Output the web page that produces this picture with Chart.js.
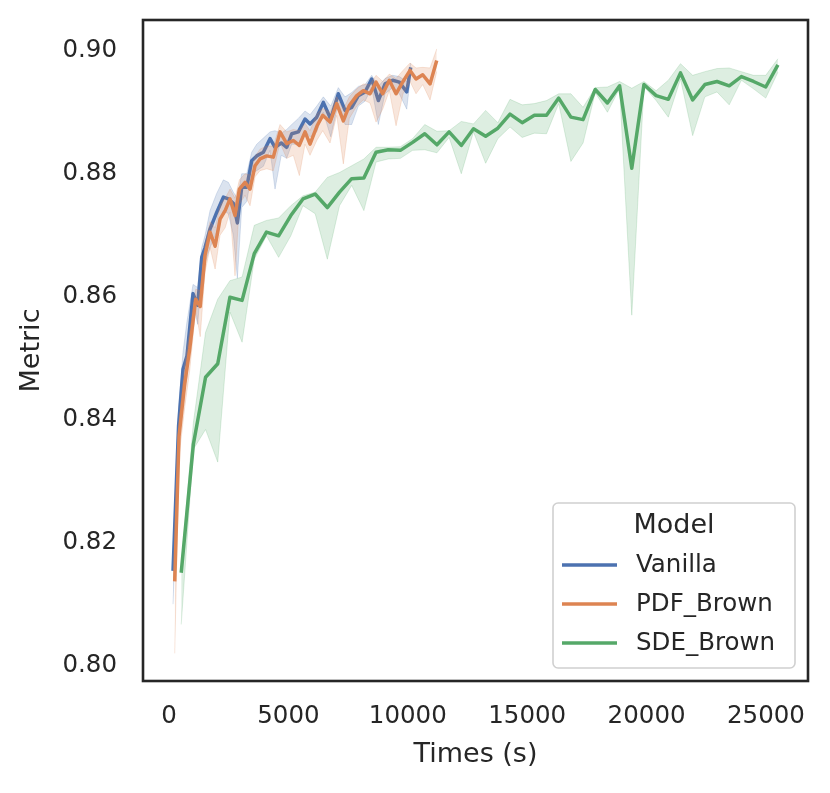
<!DOCTYPE html>
<html>
<head>
<meta charset="utf-8">
<script src="https://cdn.jsdelivr.net/npm/chart.js@4.4.1/dist/chart.umd.min.js"></script>
<style>
  body { margin: 0; background: #fff; }
  #wrap { width: 830px; height: 793px; }
</style>
</head>
<body>
<div id="wrap"><canvas id="chart" width="830" height="793"></canvas></div>
<script>
// values
const xTicks = [0, 5000, 10000, 15000, 20000, 25000];
const yTicks = [0.80, 0.82, 0.84, 0.86, 0.88, 0.90];
const seriesNames = ['Vanilla', 'PDF_Brown', 'SDE_Brown'];

const vanillaTimes = [168, 400, 586, 754, 1005, 1200, 1370, 1510, 1717, 1996, 2276, 2485, 2694, 2862, 3044, 3254, 3463, 3672, 3951, 4230, 4439, 4700, 4928, 5138, 5416, 5696, 5905, 6186, 6462, 6772, 7090, 7371, 7651, 7928, 8208, 8489, 8766, 9046, 9368, 9645, 9955, 10122];
const vanillaMean = [0.8154, 0.8390, 0.8482, 0.8504, 0.8605, 0.8586, 0.8664, 0.8680, 0.8710, 0.8737, 0.8762, 0.8759, 0.8752, 0.8720, 0.8778, 0.8778, 0.8821, 0.8829, 0.8835, 0.8857, 0.8843, 0.8850, 0.8843, 0.8865, 0.8868, 0.8889, 0.8881, 0.8892, 0.8916, 0.8889, 0.8930, 0.8903, 0.8908, 0.8927, 0.8933, 0.8954, 0.8919, 0.8946, 0.8952, 0.8949, 0.8933, 0.8973];
const vanillaUpper = [0.8180, 0.8420, 0.8510, 0.8560, 0.8620, 0.8615, 0.8680, 0.8700, 0.8740, 0.8768, 0.8790, 0.8786, 0.8770, 0.8760, 0.8800, 0.8800, 0.8835, 0.8848, 0.8858, 0.8868, 0.8870, 0.8866, 0.8872, 0.8880, 0.8890, 0.8902, 0.8896, 0.8910, 0.8925, 0.8910, 0.8940, 0.8925, 0.8932, 0.8942, 0.8945, 0.8960, 0.8942, 0.8955, 0.8960, 0.8958, 0.8950, 0.8980];
const vanillaLower = [0.8100, 0.8360, 0.8430, 0.8470, 0.8590, 0.8555, 0.8635, 0.8655, 0.8680, 0.8705, 0.8740, 0.8735, 0.8700, 0.8630, 0.8745, 0.8755, 0.8800, 0.8805, 0.8812, 0.8838, 0.8775, 0.8830, 0.8825, 0.8848, 0.8848, 0.8870, 0.8860, 0.8868, 0.8900, 0.8860, 0.8915, 0.8880, 0.8880, 0.8910, 0.8918, 0.8940, 0.8880, 0.8930, 0.8940, 0.8930, 0.8905, 0.8962];

const pdfTimes = [238, 419, 656, 866, 1117, 1305, 1508, 1717, 1930, 2136, 2350, 2555, 2764, 2946, 3183, 3392, 3602, 3811, 4092, 4368, 4649, 4928, 5206, 5457, 5696, 5905, 6200, 6437, 6743, 7023, 7300, 7551, 7861, 8137, 8418, 8669, 8950, 9226, 9507, 9800, 10093, 10344, 10625, 10931, 11211];
const pdfMean = [0.8137, 0.8373, 0.8458, 0.8515, 0.8596, 0.8584, 0.8667, 0.8705, 0.8682, 0.8726, 0.8740, 0.8759, 0.8732, 0.8775, 0.8786, 0.8775, 0.8813, 0.8824, 0.8829, 0.8827, 0.8868, 0.8849, 0.8854, 0.8846, 0.8868, 0.8848, 0.8878, 0.8895, 0.8884, 0.8914, 0.8886, 0.8911, 0.8927, 0.8935, 0.8930, 0.8949, 0.8930, 0.8952, 0.8930, 0.8950, 0.8968, 0.8954, 0.8961, 0.8946, 0.8984];
const pdfUpper = [0.8160, 0.8400, 0.8490, 0.8545, 0.8612, 0.8610, 0.8685, 0.8722, 0.8712, 0.8748, 0.8760, 0.8775, 0.8760, 0.8790, 0.8800, 0.8798, 0.8828, 0.8840, 0.8845, 0.8845, 0.8880, 0.8868, 0.8872, 0.8870, 0.8882, 0.8870, 0.8898, 0.8906, 0.8900, 0.8925, 0.8905, 0.8925, 0.8938, 0.8946, 0.8945, 0.8960, 0.8950, 0.8962, 0.8955, 0.8968, 0.8980, 0.8972, 0.8973, 0.8972, 0.9003];
const pdfLower = [0.8020, 0.8340, 0.8420, 0.8480, 0.8580, 0.8535, 0.8640, 0.8680, 0.8645, 0.8700, 0.8712, 0.8738, 0.8634, 0.8750, 0.8765, 0.8748, 0.8795, 0.8805, 0.8808, 0.8805, 0.8850, 0.8825, 0.8830, 0.8797, 0.8848, 0.8830, 0.8855, 0.8870, 0.8850, 0.8895, 0.8816, 0.8890, 0.8910, 0.8920, 0.8915, 0.8884, 0.8905, 0.8935, 0.8878, 0.8930, 0.8950, 0.8930, 0.8945, 0.8920, 0.8966];

const sdeTimes = [510, 1020, 1530, 2040, 2550, 3060, 3570, 4080, 4590, 5100, 5610, 6120, 6630, 7140, 7650, 8160, 8670, 9180, 9690, 10200, 10710, 11220, 11730, 12240, 12750, 13260, 13770, 14280, 14790, 15300, 15810, 16320, 16830, 17340, 17850, 18360, 18870, 19380, 19890, 20400, 20910, 21420, 21930, 22440, 22950, 23460, 23970, 24480, 24990, 25500];
const sdeMean = [0.8151, 0.8360, 0.8469, 0.8491, 0.8599, 0.8594, 0.8670, 0.8705, 0.8699, 0.8732, 0.8759, 0.8767, 0.8745, 0.8770, 0.8792, 0.8793, 0.8835, 0.8839, 0.8838, 0.8851, 0.8865, 0.8847, 0.8868, 0.8846, 0.8873, 0.8861, 0.8874, 0.8897, 0.8883, 0.8895, 0.8895, 0.8923, 0.8892, 0.8888, 0.8937, 0.8915, 0.8943, 0.8809, 0.8945, 0.8927, 0.8921, 0.8964, 0.8920, 0.8945, 0.8950, 0.8943, 0.8958, 0.8950, 0.8941, 0.8977];
const sdeUpper = [0.8160, 0.8395, 0.8542, 0.8596, 0.8626, 0.8632, 0.8716, 0.8724, 0.8728, 0.8748, 0.8764, 0.8770, 0.8794, 0.8802, 0.8813, 0.8824, 0.8843, 0.8843, 0.8844, 0.8857, 0.8880, 0.8869, 0.8870, 0.8885, 0.8881, 0.8903, 0.8883, 0.8921, 0.8912, 0.8914, 0.8919, 0.8930, 0.8930, 0.8908, 0.8940, 0.8941, 0.8950, 0.8939, 0.8950, 0.8935, 0.8952, 0.8979, 0.8960, 0.8966, 0.8971, 0.8972, 0.8966, 0.8960, 0.8960, 0.8987];
const sdeLower = [0.8067, 0.8352, 0.8384, 0.8331, 0.8575, 0.8526, 0.8661, 0.8699, 0.8664, 0.8699, 0.8748, 0.8735, 0.8661, 0.8748, 0.8781, 0.8740, 0.8819, 0.8824, 0.8825, 0.8838, 0.8839, 0.8834, 0.8859, 0.8800, 0.8868, 0.8817, 0.8857, 0.8876, 0.8859, 0.8866, 0.8865, 0.8914, 0.8820, 0.8850, 0.8932, 0.8900, 0.8939, 0.8570, 0.8942, 0.8919, 0.8892, 0.8954, 0.8862, 0.8925, 0.8933, 0.8912, 0.8952, 0.8938, 0.8923, 0.8965];

const colors = ['rgb(76, 114, 176)', 'rgb(221, 132, 82)', 'rgb(85, 168, 104)'];
const bandColors = ['rgba(76, 114, 176, 0.2)', 'rgba(221, 132, 82, 0.2)', 'rgba(85, 168, 104, 0.2)'];
const ink = '#262626';
const fontFamily = '"DejaVu Sans", sans-serif';

function toPts(xs, ys) {
    return xs.map(function (x, i) { return {x: x, y: ys[i]}; });
}

// lower edge, upper edge filled to the lower one, then the mean line
function seriesSets(idx, times, mean, upper, lower) {
    const base = 10 - idx * 3;
    return [{
        label: seriesNames[idx] + ' lower',
        data: toPts(times, lower),
        borderColor: bandColors[idx],
        borderWidth: 1,
        pointRadius: 0,
        fill: false,
        order: base
    }, {
        label: seriesNames[idx] + ' upper',
        data: toPts(times, upper),
        borderColor: bandColors[idx],
        backgroundColor: bandColors[idx],
        borderWidth: 1,
        pointRadius: 0,
        fill: '-1',
        order: base
    }, {
        label: seriesNames[idx],
        data: toPts(times, mean),
        borderColor: colors[idx],
        borderWidth: 3.5,
        borderJoinStyle: 'round',
        pointRadius: 0,
        fill: false,
        order: base - 1
    }];
}

const datasets = [].concat(
    seriesSets(0, vanillaTimes, vanillaMean, vanillaUpper, vanillaLower),
    seriesSets(1, pdfTimes, pdfMean, pdfUpper, pdfLower),
    seriesSets(2, sdeTimes, sdeMean, sdeUpper, sdeLower)
);

const framePlugin = {
    id: 'frame',
    afterDraw: function (chart) {
        const a = chart.chartArea;
        const ctx = chart.ctx;
        ctx.save();
        ctx.strokeStyle = ink;
        ctx.lineWidth = 2.6;
        ctx.strokeRect(a.left, a.top, a.right - a.left, a.bottom - a.top);

        // legend box, bottom right inside the axes
        const bx = 553, by = 503, bw = 242, bh = 165, r = 5;
        ctx.beginPath();
        ctx.moveTo(bx + r, by);
        ctx.arcTo(bx + bw, by, bx + bw, by + bh, r);
        ctx.arcTo(bx + bw, by + bh, bx, by + bh, r);
        ctx.arcTo(bx, by + bh, bx, by, r);
        ctx.arcTo(bx, by, bx + bw, by, r);
        ctx.closePath();
        ctx.fillStyle = 'rgba(255,255,255,0.8)';
        ctx.fill();
        ctx.strokeStyle = '#d0d0d0';
        ctx.lineWidth = 1.6;
        ctx.stroke();

        ctx.fillStyle = ink;
        ctx.textBaseline = 'middle';
        ctx.textAlign = 'center';
        ctx.font = '27px ' + fontFamily;
        ctx.fillText('Model', bx + bw / 2, 526);
        ctx.textAlign = 'left';
        ctx.font = '24.5px ' + fontFamily;
        const rows = [565, 604, 643];
        seriesNames.forEach(function (name, i) {
            ctx.strokeStyle = colors[i];
            ctx.lineWidth = 3.5;
            ctx.beginPath();
            ctx.moveTo(562, rows[i]);
            ctx.lineTo(617, rows[i]);
            ctx.stroke();
            ctx.fillStyle = ink;
            ctx.fillText(name, 636, rows[i] + 1);
        });
        ctx.restore();
    }
};

const config = {
    type: 'line',
    data: {datasets: datasets},
    options: {
        responsive: false,
        animation: false,
        devicePixelRatio: 1,
        layout: {padding: {top: 20, right: 22, left: 0, bottom: 0}},
        plugins: {
            legend: {display: false},
            tooltip: {enabled: false},
            filler: {propagate: false}
        },
        elements: {line: {tension: 0}},
        scales: {
            x: {
                type: 'linear',
                min: -1090,
                max: 26760,
                grid: {display: false, drawTicks: false},
                border: {display: false},
                afterBuildTicks: function (scale) {
                    scale.ticks = xTicks.map(function (v) { return {value: v}; });
                },
                afterFit: function (scale) {
                    scale.height = 112;
                    scale.paddingLeft = 0;
                    scale.paddingRight = 0;
                },
                ticks: {
                    color: ink,
                    padding: 21,
                    maxRotation: 0,
                    font: {family: fontFamily, size: 24.5},
                    callback: function (v) { return String(v); }
                },
                title: {
                    display: true,
                    text: 'Times (s)',
                    color: ink,
                    font: {family: fontFamily, size: 27},
                    padding: {top: 0, bottom: 22}
                }
            },
            y: {
                type: 'linear',
                min: 0.7975,
                max: 0.9050,
                grid: {display: false, drawTicks: false},
                border: {display: false},
                afterBuildTicks: function (scale) {
                    scale.ticks = yTicks.map(function (v) { return {value: v}; });
                },
                afterFit: function (scale) {
                    scale.width = 143;
                    scale.paddingTop = 0;
                    scale.paddingBottom = 0;
                },
                ticks: {
                    color: ink,
                    padding: 26,
                    font: {family: fontFamily, size: 24.5},
                    callback: function (v) { return v.toFixed(2); }
                },
                title: {
                    display: true,
                    text: 'Metric',
                    color: ink,
                    font: {family: fontFamily, size: 27},
                    padding: {top: 16, bottom: 0}
                }
            }
        }
    },
    plugins: [framePlugin]
};

const myChart = new Chart(document.getElementById('chart'), config);
</script>
</body>
</html>
